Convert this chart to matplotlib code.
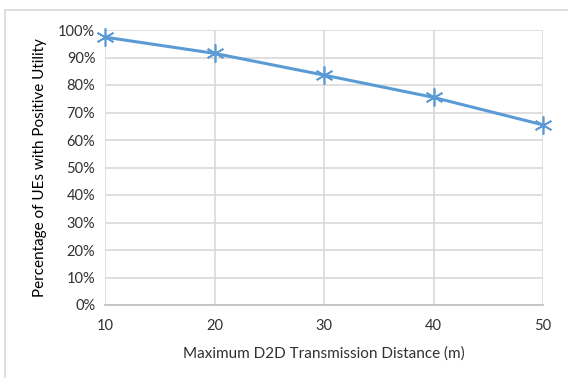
import matplotlib
matplotlib.use("Agg")
import matplotlib.pyplot as plt
from matplotlib.patches import Rectangle
from matplotlib.ticker import PercentFormatter

# data
distance = [10, 20, 30, 40, 50]
pct_positive = [97.4, 91.5, 83.6, 75.5, 65.5]
yticks = list(range(0, 101, 10))

plt.rcParams['font.family'] = ['Lato', 'DejaVu Sans']

fig = plt.figure(figsize=(5.68, 3.78), dpi=100)
fig.patches.append(Rectangle((5 / 568, -0.01), 1.0, 1 - 10 / 378 + 0.01,
                             transform=fig.transFigure, fill=False,
                             edgecolor='#d9d9d9', linewidth=1.2))

ax = fig.add_axes([105 / 568, 1 - 305 / 378, 438 / 568, 275 / 378])
ax.plot(distance, pct_positive, color='#5b9bd5', linewidth=2.2,
        marker=(6, 2, 0), markersize=13, markeredgewidth=1.2,
        markeredgecolor='#5b9bd5', clip_on=False, zorder=3)

ax.set_xlim(10, 50)
ax.set_ylim(0, 100)
ax.set_xticks(distance)
ax.set_yticks(yticks)
ax.yaxis.set_major_formatter(PercentFormatter(decimals=0))
ax.grid(True, color='#d9d9d9', linewidth=1.2)
ax.set_axisbelow(True)
for s in ['top', 'right', 'left']:
    ax.spines[s].set_visible(False)
ax.spines['bottom'].set_color('#bfbfbf')
ax.spines['bottom'].set_linewidth(1.2)
ax.tick_params(length=0, labelsize=10.5, colors='#303030', pad=10)
ax.tick_params(axis='y', pad=7)

ax.set_xlabel('Maximum D2D Transmission Distance (m)', fontsize=11,
              color='#303030', labelpad=10)
ax.set_ylabel('Percentage of UEs with Positive Utility', fontsize=11,
              color='#000000', labelpad=8)

fig.savefig('out.png', dpi=100)
